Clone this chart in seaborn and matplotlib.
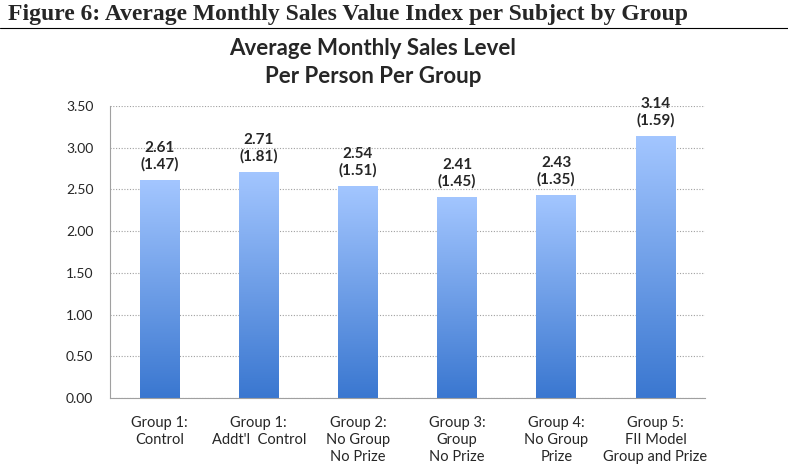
import numpy as np
import pandas as pd
import seaborn as sns
import matplotlib.pyplot as plt
from matplotlib.colors import LinearSegmentedColormap

groups = ['Group 1:\nControl', "Group 1:\nAddt'l  Control", 'Group 2:\nNo Group\nNo Prize',
          'Group 3:\nGroup\nNo Prize', 'Group 4:\nNo Group\nPrize', 'Group 5:\nFII Model\nGroup and Prize']
means = [2.61, 2.71, 2.54, 2.41, 2.43, 3.14]
sds = [1.47, 1.81, 1.51, 1.45, 1.35, 1.59]
yticks = [0, 0.5, 1.0, 1.5, 2.0, 2.5, 3.0, 3.5]

data = pd.DataFrame({'Group': groups, 'Mean': means, 'SD': sds})

sns.set_style('white')
plt.rcParams['font.family'] = ['Lato', 'DejaVu Sans']

fig = plt.figure(figsize=(7.88, 4.68), dpi=100)
ax = fig.add_axes([0.1396, 0.1496, 0.7551, 0.6239])

sns.barplot(x='Group', y='Mean', data=data, color='#6a9de8', width=0.4, ax=ax, saturation=1)

# gradient fill for bars
cmap = LinearSegmentedColormap.from_list('bar', ['#3a77d0', '#a3c6ff'])
grad = np.linspace(0, 1, 256).reshape(-1, 1)
for p in ax.patches:
    x0, y0 = p.get_x(), p.get_y()
    w, h = p.get_width(), p.get_height()
    im = ax.imshow(grad, cmap=cmap, aspect='auto', origin='lower',
                   extent=[x0, x0 + w, y0, y0 + h], zorder=p.get_zorder() + 0.1)
    im.set_clip_path(p)
    p.set_edgecolor('none')

for i, (m, s) in enumerate(zip(means, sds)):
    ax.annotate(f'{m:.2f}\n({s:.2f})', xy=(i, m), xytext=(0, 6), textcoords='offset points',
                ha='center', va='bottom', fontsize=11, fontweight='bold', linespacing=1.2)

ax.set_xlim(-0.5, len(groups) - 0.5)
ax.set_ylim(0, 3.5)
ax.set_yticks(yticks)
ax.set_yticklabels([f'{v:.2f}' for v in yticks], fontsize=10)
ax.yaxis.grid(True, linestyle=(0, (1, 1.5)), color='#a0a0a0', linewidth=0.8)
ax.set_axisbelow(True)

ax.set_xticks(np.arange(-0.5, len(groups), 1.0))
ax.set_xticklabels([])
ax.tick_params(axis='x', which='major', length=5, color='#a0a0a0', width=0.8)
ax.set_xticks(np.arange(len(groups)), minor=True)
ax.set_xticklabels(groups, minor=True, fontsize=10.5, linespacing=1.27)
ax.tick_params(axis='x', which='minor', length=0, pad=13)
ax.tick_params(axis='y', length=0, pad=12)

for side in ['top', 'right']:
    ax.spines[side].set_visible(False)
for side in ['left', 'bottom']:
    ax.spines[side].set_color('#a0a0a0')
    ax.spines[side].set_linewidth(0.8)

ax.set_xlabel('')
ax.set_ylabel('')

fig.text(0.473, 0.815, 'Average Monthly Sales Level\nPer Person Per Group', ha='center', va='bottom',
         fontsize=16, fontweight='bold', linespacing=1.4)
fig.text(0.01, 0.947, 'Figure 6: Average Monthly Sales Value Index per Subject by Group',
         ha='left', va='bottom', fontsize=17, fontweight='bold', family='Liberation Serif')
fig.add_artist(plt.Line2D([0.0, 1.0], [0.94, 0.94], color='black', linewidth=0.8))

plt.savefig('out.png', dpi=100)
